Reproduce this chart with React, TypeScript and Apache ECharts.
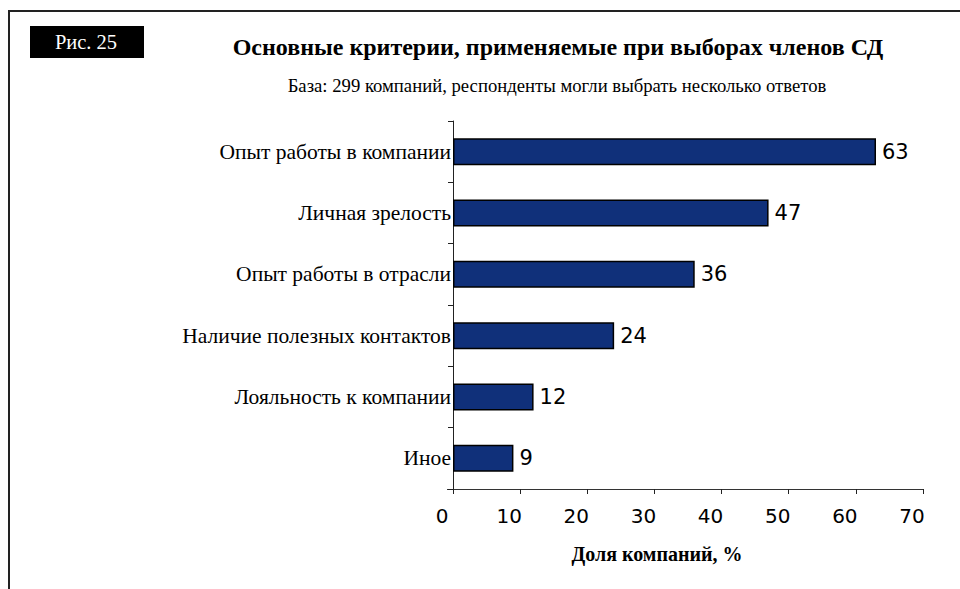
import React, { useEffect, useRef } from "react";
import * as echarts from "echarts";

const categories = [
  "Опыт работы в компании",
  "Личная зрелость",
  "Опыт работы в отрасли",
  "Наличие полезных контактов",
  "Лояльность к компании",
  "Иное",
];
const values = [63, 47, 36, 24, 12, 9];
const xTicks = [0, 10, 20, 30, 40, 50, 60, 70];

const title = "Основные критерии, применяемые при выборах членов СД";
const subtitle = "База: 299 компаний, респонденты могли выбрать несколько ответов";
const figLabel = "Рис. 25";
const xName = "Доля компаний, %";

export default function App() {
  const ref = useRef<HTMLDivElement>(null);
  useEffect(() => {
    if (!ref.current) return;
    const chart = echarts.init(ref.current, undefined, { renderer: "svg" });
    const serif = "Liberation Serif";
    const sans = "DejaVu Sans";
    chart.setOption({
      animation: false,
      backgroundColor: "#fff",
      grid: { left: 453, right: 37, top: 121, bottom: 100, containLabel: false },
      xAxis: {
        type: "value",
        min: xTicks[0],
        max: xTicks[xTicks.length - 1],
        interval: 10,
        splitLine: { show: false },
        axisLine: { show: true, lineStyle: { color: "#333", width: 1 } },
        axisTick: { show: true, length: 5, inside: false, lineStyle: { color: "#222" } },
        axisLabel: {
          color: "#000",
          fontFamily: sans,
          fontSize: 20,
          margin: 17,
          formatter: "{a|{value}}",
          rich: {
            a: {
              color: "#000",
              fontFamily: sans,
              fontSize: 20,
              padding: [0, 22, 0, 0],
            },
          },
        },
      },
      yAxis: {
        type: "category",
        data: categories,
        inverse: true,
        axisLine: { show: true, lineStyle: { color: "#222", width: 1 } },
        axisTick: { show: true, length: 5, lineStyle: { color: "#222" } },
        axisLabel: {
          color: "#000",
          fontFamily: serif,
          fontSize: 21.5,
          margin: 2,
        },
      },
      series: [
        {
          type: "bar",
          data: values,
          barWidth: 27,
          itemStyle: { color: "#10307a", borderColor: "#000", borderWidth: 1.5 },
          label: {
            show: true,
            position: "right",
            distance: 6,
            color: "#000",
            fontFamily: sans,
            fontSize: 21,
          },
        },
      ],
      graphic: [
        {
          type: "rect",
          shape: { x: 9, y: 11, width: 1000, height: 700 },
          style: { fill: "none", stroke: "#222", lineWidth: 2 },
          silent: true,
        },
        {
          type: "rect",
          shape: { x: 30, y: 26, width: 114, height: 32 },
          style: { fill: "#000" },
        },
        {
          type: "text",
          x: 86,
          y: 42,
          style: {
            text: figLabel,
            fill: "#fff",
            fontFamily: serif,
            fontSize: 20.5,
            align: "center",
            verticalAlign: "middle",
          },
        },
        {
          type: "text",
          x: 558,
          y: 47,
          style: {
            text: title,
            fill: "#000",
            fontFamily: serif,
            fontSize: 24,
            fontWeight: "bold",
            align: "center",
            verticalAlign: "middle",
          },
        },
        {
          type: "text",
          x: 557,
          y: 85,
          style: {
            text: subtitle,
            fill: "#000",
            fontFamily: serif,
            fontSize: 18.7,
            align: "center",
            verticalAlign: "middle",
          },
        },
        {
          type: "text",
          x: 657,
          y: 554,
          style: {
            text: xName,
            fill: "#000",
            fontFamily: serif,
            fontSize: 20,
            fontWeight: "bold",
            align: "center",
            verticalAlign: "middle",
          },
        },
        {
          type: "line",
          shape: { x1: 447, y1: 489.5, x2: 453, y2: 489.5 },
          style: { stroke: "#333", lineWidth: 1 },
        },
      ],
    });
    return () => chart.dispose();
  }, []);
  return (
    <div
      ref={ref}
      style={{ position: "fixed", left: 0, top: 0, width: 960, height: 589 }}
    />
  );
}
